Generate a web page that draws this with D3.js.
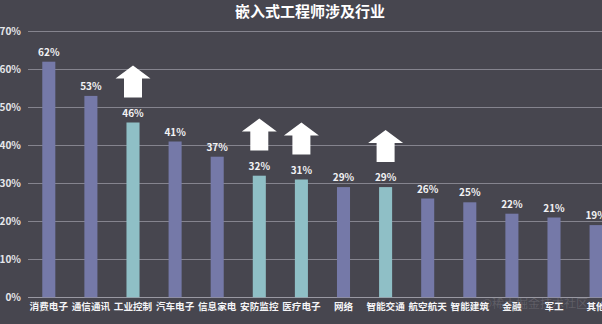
<!DOCTYPE html>
<html><head><meta charset="utf-8">
<script src="https://cdn.jsdelivr.net/npm/d3@7"></script>
<style>html,body{margin:0;padding:0;background:#47464f;overflow:hidden}</style>
</head><body><svg id="c" width="602" height="324"></svg>
<script>
const title = "嵌入式工程师涉及行业";
const categories = ["消费电子","通信通讯","工业控制","汽车电子","信息家电","安防监控","医疗电子","网络","智能交通","航空航天","智能建筑","金融","军工","其他"];
const values = [62,53,46,41,37,32,31,29,29,26,25,22,21,19];
const highlighted = ["工业控制","安防监控","医疗电子","智能交通"];
const yTicks = [0,10,20,30,40,50,60,70];
const watermark = "@稀土掘金技术社区";

const svg = d3.select("#c");
const font = "'Noto Sans CJK SC','Noto Sans',sans-serif";
svg.append("rect").attr("width",602).attr("height",324).attr("fill","#47464f");

const y = d3.scaleLinear().domain([0,70]).range([297.3,31.3]);
const x = d3.scaleBand().domain(categories).range([27.75, 27.75+14*42.1]).paddingInner(0.69).paddingOuter(0.345);

// watermark (behind labels)
svg.append("text").attr("x",588).attr("y",308).attr("text-anchor","end").attr("fill","#ffffff").attr("fill-opacity",0.14)
  .attr("font-size",12).attr("font-family",font).text(watermark);

// y axis labels
const yAxis = d3.axisLeft(y).tickValues(yTicks).tickFormat(d=>d+"%").tickSize(0).tickPadding(0);
const ga = svg.append("g").attr("transform","translate(21,0)").call(yAxis);
ga.select(".domain").remove();
ga.selectAll("text").attr("fill","#e6e6ea").attr("font-size",10).attr("font-family",font).attr("font-weight",600).attr("dy","0.35em");
// grid
svg.append("g").selectAll("line").data(yTicks).join("line")
  .attr("x1",28).attr("x2",602).attr("y1",d=>Math.round(y(d))+0.5).attr("y2",d=>Math.round(y(d))+0.5)
  .attr("stroke",d=>d===0?"#9a99a3":"#85848e").attr("stroke-width",1);

// bars
svg.append("g").selectAll("rect").data(categories).join("rect")
  .attr("x",d=>x(d)).attr("width",x.bandwidth())
  .attr("y",(d,i)=>y(values[i])).attr("height",(d,i)=>y(0)-y(values[i]))
  .attr("fill",d=>highlighted.includes(d)?"#8fbfc6":"#7579a8");

// value labels
svg.append("g").selectAll("text").data(categories).join("text")
  .attr("x",d=>x(d)+x.bandwidth()/2).attr("y",(d,i)=>y(values[i])-6)
  .attr("text-anchor","middle").attr("fill","#f2f2f4").attr("font-size",10).attr("font-weight",700)
  .attr("font-family",font).text((d,i)=>values[i]+"%");

// category labels
const xAxis = d3.axisBottom(x).tickSize(0).tickPadding(0);
const gx = svg.append("g").attr("transform","translate(0,303)").call(xAxis);
gx.select(".domain").remove();
gx.selectAll("text").attr("fill","#f4f4f6").attr("font-size",9.6).attr("font-family",font).attr("font-weight",600).attr("dy","0.71em");

// arrows above highlighted bars
const aw = 35, ah = 32, hh = 13, sw = 18;
const arrowPath = `M0,0 L${aw/2},${hh} L${sw/2},${hh} L${sw/2},${ah} L${-sw/2},${ah} L${-sw/2},${hh} L${-aw/2},${hh} Z`;
svg.append("g").selectAll("path").data(highlighted).join("path")
  .attr("d",arrowPath).attr("fill","#ffffff")
  .attr("transform",d=>{const i=categories.indexOf(d);return `translate(${x(d)+x.bandwidth()/2},${y(values[i]+6.6)-ah})`;});

// title
svg.append("text").attr("x",310).attr("y",17).attr("text-anchor","middle").attr("fill","#ffffff")
  .attr("font-size",15).attr("font-weight",700).attr("font-family",font).text(title);
</script></body></html>
